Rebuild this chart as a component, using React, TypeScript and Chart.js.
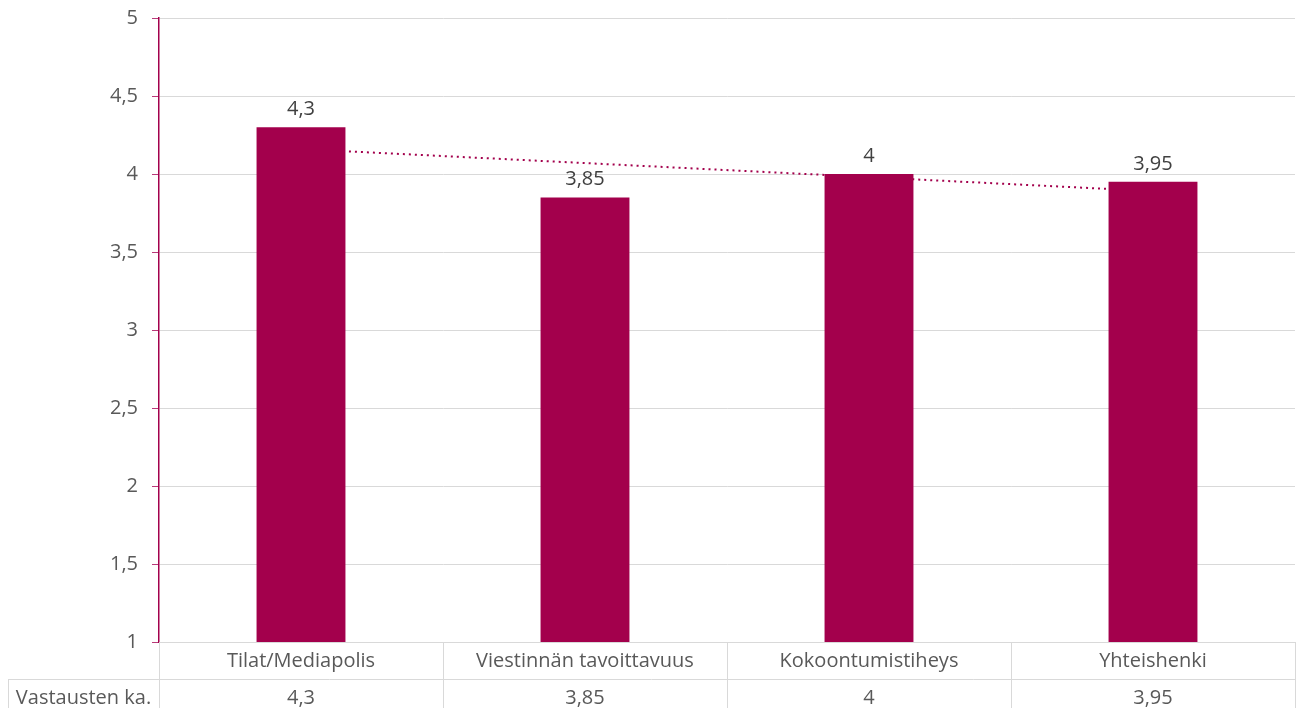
import React, { useEffect, useRef } from "react";
import { Chart, registerables } from "chart.js";

Chart.register(...registerables);

const categories = ["Tilat/Mediapolis", "Viestinnän tavoittavuus", "Kokoontumistiheys", "Yhteishenki"];
const values = [4.3, 3.85, 4, 3.95];
const trendValues = [4.16, 4.07, 3.98, 3.89];
const valueLabels = ["4,3", "3,85", "4", "3,95"];
const tableRowLabel = "Vastausten ka.";

const FONT = "'Open Sans', 'Noto Sans', sans-serif";
const BAR = "#A3004C";

const overlayPlugin = {
  id: "overlay",
  afterDraw(chart: any) {
    const ctx = chart.ctx;
    const area = chart.chartArea;
    const xScale = chart.scales.x;
    const yScale = chart.scales.y;
    ctx.save();
    // data labels
    ctx.fillStyle = "#404040";
    ctx.font = `20px ${FONT}`;
    ctx.textAlign = "center";
    ctx.textBaseline = "middle";
    values.forEach((v, i) => {
      const x = xScale.getPixelForValue(i);
      const y = yScale.getPixelForValue(v);
      ctx.fillText(valueLabels[i], x, y - 18);
    });
    // data table
    const top = area.bottom;
    const row1 = top + 37;
    const bottom = 720;
    const n = categories.length;
    const cw = (area.right - area.left) / n;
    ctx.strokeStyle = "#d9d9d9";
    ctx.lineWidth = 1;
    ctx.beginPath();
    ctx.moveTo(8, Math.round(row1) + 0.5);
    ctx.lineTo(area.right, Math.round(row1) + 0.5);
    for (let i = 0; i <= n; i++) {
      const x = Math.round(area.left + i * cw) + 0.5;
      ctx.moveTo(x, top);
      ctx.lineTo(x, bottom);
    }
    ctx.moveTo(8.5, row1);
    ctx.lineTo(8.5, bottom);
    ctx.stroke();
    ctx.fillStyle = "#595959";
    ctx.font = `20px ${FONT}`;
    ctx.textBaseline = "middle";
    ctx.textAlign = "center";
    categories.forEach((c, i) => {
      const x = xScale.getPixelForValue(i);
      ctx.fillText(c, x, top + 19);
      ctx.fillText(valueLabels[i], x, row1 + 19);
    });
    ctx.fillText(tableRowLabel, (8 + area.left) / 2, row1 + 19);
    ctx.restore();
  },
};

export default function App() {
  const ref = useRef<HTMLCanvasElement>(null);
  useEffect(() => {
    if (!ref.current) return;
    const chart = new Chart(ref.current, {
      type: "bar",
      data: {
        labels: categories,
        datasets: [
          {
            type: "bar",
            data: values,
            backgroundColor: BAR,
            categoryPercentage: 1,
            barPercentage: 0.313,
            order: 0,
          },
          {
            type: "line",
            data: trendValues,
            borderColor: BAR,
            borderWidth: 2,
            borderDash: [2, 4],
            pointRadius: 0,
            fill: false,
            order: 1,
          } as any,
        ],
      },
      options: {
        responsive: false,
        animation: false,
        layout: { padding: { left: 0, right: 5, top: 18, bottom: 66 } },
        plugins: { legend: { display: false }, tooltip: { enabled: false } },
        scales: {
          x: { display: false },
          y: {
            min: 1,
            max: 5,
            ticks: {
              stepSize: 0.5,
              padding: 14,
              color: "#595959",
              font: { family: FONT, size: 20 },
              callback: (v: any) => String(v).replace(".", ","),
            },
            grid: { color: "#d9d9d9", tickLength: 7, tickColor: "#b83a78" },
            border: { color: BAR, width: 1.5 },
            afterFit: (s: any) => {
              s.width = 159;
              s.paddingTop = 0;
              s.paddingBottom = 0;
            },
          },
        },
      },
      plugins: [overlayPlugin],
    });
    return () => chart.destroy();
  }, []);
  return (
    <div style={{ position: "fixed", left: 0, top: 0, width: 1300, height: 708, background: "#fff" }}>
      <canvas ref={ref} width={1300} height={708} style={{ width: 1300, height: 708 }} />
    </div>
  );
}
